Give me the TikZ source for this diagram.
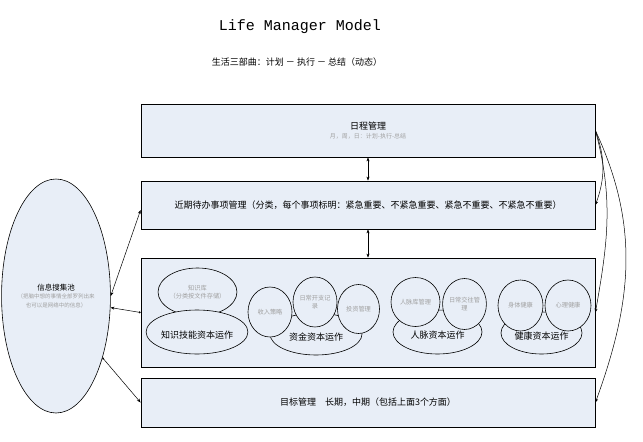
\documentclass[tikz,border=0pt]{standalone}
\usepackage{fontspec}
\setmainfont{Noto Sans CJK SC}
\newfontfamily\titlefont{Liberation Mono}
\usetikzlibrary{shapes.geometric,arrows.meta}
\definecolor{panelfill}{HTML}{E8EEF7}
\definecolor{notegray}{HTML}{A0A0A0}

\def\panelwidth{454pt}
\def\notefont{\color{notegray}\fontsize{5.5}{6.5}\selectfont}

\begin{document}
\begin{tikzpicture}[x=1pt,y=-1pt,>={Stealth[length=4pt,width=3pt]}]
    \tikzstyle{panel}=[draw,line width=0.8pt,fill=panelfill,minimum width=\panelwidth,inner sep=0pt,align=center,font=\fontsize{9}{11}\selectfont]
    \tikzstyle{blob}=[draw,ellipse,line width=0.6pt,fill=panelfill,inner sep=0pt,align=center]
    \tikzstyle{capital}=[blob,text height=12pt,text depth=0pt,font=\fontsize{9}{11}\selectfont]
    \tikzstyle{item}=[blob,text=notegray,font=\fontsize{6.2}{7.5}\selectfont]
    \tikzstyle{link}=[line width=0.5pt]

    \useasboundingbox (0,0) rectangle (643,442);

    % Title and subtitle
    \node[font=\titlefont\fontsize{15}{18}\selectfont] (title) at (300,27) {Life Manager Model};
    \node[font=\fontsize{9}{11}\selectfont] (motto) at (297,62) {生活三部曲：计划 － 执行 － 总结（动态）};

    % Draw the four layers
    \node[panel, minimum height=53pt] (schedule) at (368,130.5)
        {日程管理\\[-2pt]\color{notegray}\fontsize{6}{7}\selectfont 月，周，日：计划-执行-总结};
    \node[panel, minimum height=48pt] (plan) at (368,205)
        {近期待办事项管理（分类，每个事项标明：紧急重要、不紧急重要、紧急不重要、不紧急不重要）};
    \node[panel, minimum height=109pt] (capital) at (368,312.5) {};
    \node[panel, minimum height=49pt] (goal) at (368,402.5)
        {目标管理\quad 长期，中期（包括上面3个方面）};

    % Draw the information pool
    \node[blob, minimum width=106pt, minimum height=234pt, font=\fontsize{7.5}{9}\selectfont] (pool) at (56,296)
        {信息搜集池\\[-1pt]\notefont （把脑中想的事情全部罗列出来\\\notefont 也可以是网络中的信息）};

    % Knowledge group
    \node[item, minimum width=73pt, minimum height=48pt] (library) at (197.5,292) {知识库\\（分类按文件存储）};
    \node[capital, minimum width=90pt, minimum height=44pt] (skill) at (197,332) {知识技能资本运作};

    % Money group
    \node[capital, minimum width=92pt, minimum height=42pt] (money) at (316,334) {资金资本运作};
    \node[item, minimum width=44pt, minimum height=50pt] (income) at (270,312) {收入策略};
    \node[item, minimum width=44pt, minimum height=50pt] (expense) at (315,302) {日常开支记\\录};
    \node[item, minimum width=42pt, minimum height=49pt] (invest) at (358.5,309) {投资管理};

    % People group
    \node[capital, minimum width=89pt, minimum height=44pt] (people) at (437.5,332) {人脉资本运作};
    \node[item, minimum width=49pt, minimum height=49pt] (contacts) at (415.5,302) {人脉库管理};
    \node[item, minimum width=42pt, minimum height=51pt] (social) at (464.5,304) {日常交往管\\理};

    % Health group
    \node[capital, minimum width=81pt, minimum height=42pt] (health) at (541.5,333) {健康资本运作};
    \node[item, minimum width=45pt, minimum height=51pt] (body) at (520.5,305.5) {身体健康};
    \node[item, minimum width=46pt, minimum height=51pt] (mind) at (568,305.5) {心理健康};

    % Connect the layers
    \foreach \upper/\lower in {schedule/plan, plan/capital}
        \draw[link,<->] (\upper.south) -- (\lower.north);

    % Connect the schedule with the lower layers
    \foreach \dest/\outa/\ina in {plan/-70/70, capital/-75/80, goal/-65/70}
        \draw[link,->] (schedule.east) to[out=\outa,in=\ina] (\dest.east);

    % Connect the pool with the layers
    \draw[link,<->] (pool.east) -- ([yshift=-5pt]plan.west);
    \draw[link,{Circle[length=2pt]}->] (capital.west) -- (pool.-12);
    \draw[link,{Circle[length=2pt]}->] (pool.-53) -- (goal.west);
\end{tikzpicture}
\end{document}
